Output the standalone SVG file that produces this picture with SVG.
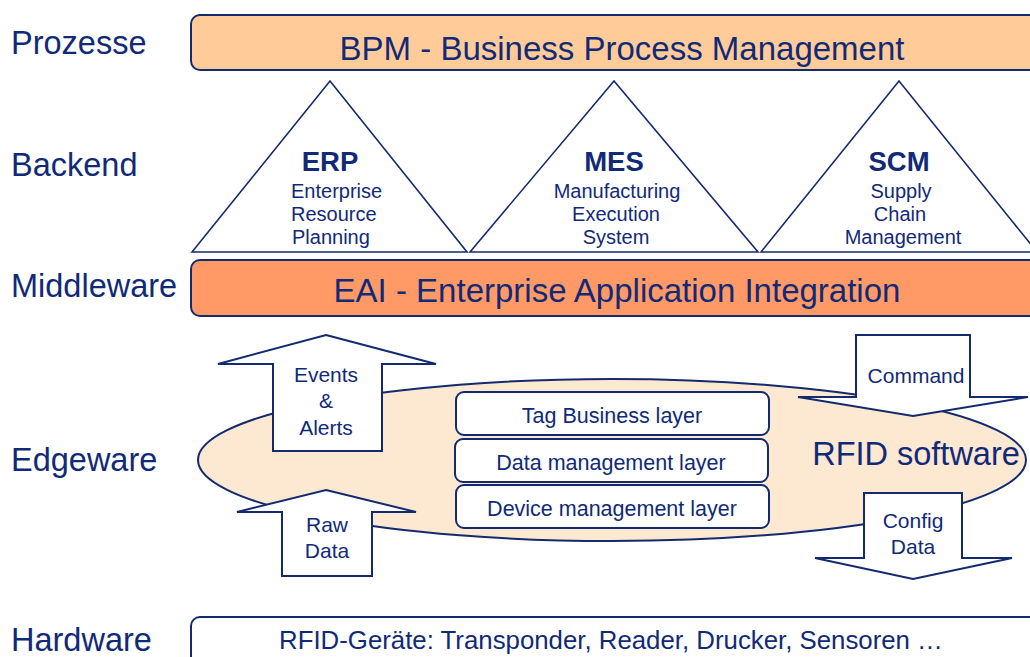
<svg xmlns="http://www.w3.org/2000/svg" width="1030" height="657" viewBox="0 0 1030 657">
<style>
text{font-family:"Liberation Sans",Arial,sans-serif;fill:#112a78}
.lbl{font-size:32.5px}
.big{font-size:33px;text-anchor:middle}
.tt{font-size:27.5px;font-weight:bold;text-anchor:middle}
.ts{font-size:20px;text-anchor:middle}
.sm{font-size:21px;text-anchor:middle}
.ly{font-size:21.5px;text-anchor:middle}
.ln{stroke:#142a6e;stroke-width:2;fill:#fff}
.tri{stroke:#142a6e;stroke-width:1.6;fill:#fff}
</style>
<rect width="1030" height="657" fill="#fff"/>
<g id="labels">
<text class="lbl" x="11" y="54">Prozesse</text>
<text class="lbl" x="11" y="176">Backend</text>
<text class="lbl" x="11" y="297">Middleware</text>
<text class="lbl" x="11" y="471">Edgeware</text>
<text class="lbl" x="11" y="651">Hardware</text>
</g>
<g id="bpm">
<rect x="191" y="15" width="860" height="55" rx="9" fill="#ffcc99" stroke="#142a6e" stroke-width="2"/>
<text class="big" x="622" y="60">BPM - Business Process Management</text>
</g>
<g id="erp">
<polygon class="tri" points="192,252 330,81 467,252"/>
<text class="tt" x="330" y="171">ERP</text>
<text class="ts" x="291" y="198" style="text-anchor:start">Enterprise</text>
<text class="ts" x="291" y="221" style="text-anchor:start">Resource</text>
<text class="ts" x="292" y="244" style="text-anchor:start">Planning</text>
</g>
<g id="mes">
<polygon class="tri" points="470,252 614,81 758,252"/>
<text class="tt" x="614" y="171">MES</text>
<text class="ts" x="617" y="198">Manufacturing</text>
<text class="ts" x="616" y="221">Execution</text>
<text class="ts" x="616" y="244">System</text>
</g>
<g id="scm">
<polygon class="tri" points="761,252 899,81 1037,252"/>
<text class="tt" x="899" y="171">SCM</text>
<text class="ts" x="901" y="198">Supply</text>
<text class="ts" x="900" y="221">Chain</text>
<text class="ts" x="903" y="244">Management</text>
</g>
<g id="eai">
<rect x="191" y="260" width="860" height="56" rx="9" fill="#ff9966" stroke="#142a6e" stroke-width="2"/>
<text class="big" x="617" y="302">EAI - Enterprise Application Integration</text>
</g>
<g id="rfid-software">
<ellipse cx="612" cy="460" rx="414" ry="81" fill="#fde8d2" stroke="#142a6e" stroke-width="2"/>
<text x="916" y="465" style="font-size:32.5px;text-anchor:middle">RFID software</text>
</g>
<g id="tag-business">
<rect class="ln" x="456" y="392" width="313" height="43" rx="8"/>
<text class="ly" x="612" y="423">Tag Business layer</text>
</g>
<g id="data-management">
<rect class="ln" x="455" y="439" width="313" height="43" rx="8"/>
<text class="ly" x="611" y="470">Data management layer</text>
</g>
<g id="device-management">
<rect class="ln" x="456" y="485" width="313" height="43" rx="8"/>
<text class="ly" x="612" y="516">Device management layer</text>
</g>
<g id="connectors">
<g id="events-alerts">
<polygon class="ln" points="326,335 436,364 382,364 382,451 273,451 273,364 218,364"/>
<text class="sm" x="326" y="382">Events</text>
<text class="sm" x="326" y="408">&amp;</text>
<text class="sm" x="326" y="435">Alerts</text>
</g>
<g id="raw-data">
<polygon class="ln" points="326,490 416,512 372,512 372,576 282,576 282,512 237,512"/>
<text class="sm" x="327" y="532">Raw</text>
<text class="sm" x="327" y="558">Data</text>
</g>
<g id="command">
<polygon class="ln" points="856,335 970,335 970,397 1028,397 913,416 798,397 856,397"/>
<text class="sm" x="916" y="383">Command</text>
</g>
<g id="config-data">
<polygon class="ln" points="864,493 962,493 962,558 1012,558 913,579 815,558 864,558"/>
<text class="sm" x="913" y="528">Config</text>
<text class="sm" x="913" y="554">Data</text>
</g>
</g>
<g id="hardware">
<rect class="ln" x="191" y="617" width="860" height="60" rx="9"/>
<text x="611" y="649" style="font-size:25.8px;text-anchor:middle">RFID-Geräte: Transponder, Reader, Drucker, Sensoren …</text>
</g>
</svg>
